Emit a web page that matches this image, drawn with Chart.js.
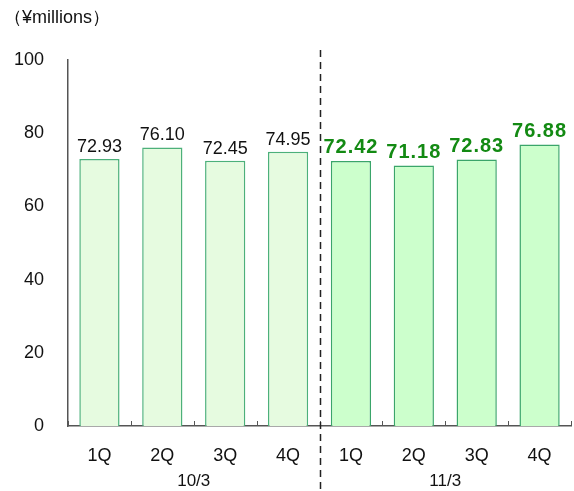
<!DOCTYPE html>
<html>
<head>
<meta charset="utf-8">
<script src="https://cdn.jsdelivr.net/npm/chart.js@4"></script>
<style>
  body { margin: 0; background: #fff; }
  #wrap { width: 574px; height: 491px; position: relative; }
</style>
</head>
<body>
<div id="wrap"><canvas id="myChart"></canvas></div>
<script>
const quarters = ["1Q", "2Q", "3Q", "4Q", "1Q", "2Q", "3Q", "4Q"];
const periods = ["10/3", "11/3"];
const values = [72.93, 76.1, 72.45, 74.95, 72.42, 71.18, 72.83, 76.88];
const yTicks = [0, 20, 40, 60, 80, 100];
const unitLabel = "（¥millions）";

const FONT = "'Liberation Sans', Arial, sans-serif";

// colours: previous year pale, current year stronger green
const fills = values.map((v, i) => (i < 4 ? "#e6fbe0" : "#ccffcc"));
const borders = values.map((v, i) => (i < 4 ? "#4cb07a" : "#3aa56a"));

const extras = {
  id: "extras",
  afterDatasetsDraw(chart) {
    const ctx = chart.ctx;
    const x = chart.scales.x;
    const area = chart.chartArea;
    const meta = chart.getDatasetMeta(0);
    const step = x.getPixelForValue(1) - x.getPixelForValue(0);

    ctx.save();
    // value labels
    ctx.textAlign = "center";
    ctx.textBaseline = "bottom";
    meta.data.forEach((bar, i) => {
      if (i < 4) {
        ctx.font = "18px " + FONT;
        ctx.fillStyle = "#111";
        ctx.letterSpacing = "0px";
      } else {
        ctx.font = "bold 20px " + FONT;
        ctx.fillStyle = "#138a13";
        ctx.letterSpacing = "1px";
      }
      ctx.fillText(values[i].toFixed(2), bar.x, bar.y - 3);
    });
    ctx.letterSpacing = "0px";

    // small ticks on x axis at category boundaries
    ctx.strokeStyle = "#555";
    ctx.lineWidth = 1;
    for (let i = 0; i <= quarters.length; i++) {
      const px = Math.round(x.getPixelForValue(i) - step / 2) + 0.5;
      ctx.beginPath();
      ctx.moveTo(px, area.bottom);
      ctx.lineTo(px, area.bottom - 5);
      ctx.stroke();
    }

    // period labels
    ctx.font = "17px " + FONT;
    ctx.fillStyle = "#111";
    ctx.textBaseline = "middle";
    periods.forEach((p, g) => {
      const cx = (x.getPixelForValue(g * 4) + x.getPixelForValue(g * 4 + 3)) / 2;
      ctx.fillText(p, cx, area.bottom + 55);
    });

    // dashed divider
    const dx = Math.round(x.getPixelForValue(3.5)) + 0.5;
    ctx.strokeStyle = "#222";
    ctx.lineWidth = 1.5;
    ctx.setLineDash([7, 5]);
    ctx.beginPath();
    ctx.moveTo(dx, 50);
    ctx.lineTo(dx, chart.height);
    ctx.stroke();
    ctx.setLineDash([]);

    // unit label
    ctx.font = "18px " + FONT;
    ctx.textAlign = "left";
    ctx.fillText(unitLabel, 4, 18);
    ctx.restore();
  },
};

new Chart(document.getElementById("myChart"), {
  type: "bar",
  data: {
    labels: quarters,
    datasets: [
      {
        data: values,
        backgroundColor: fills,
        borderColor: borders,
        borderWidth: 1.5,
        barPercentage: 0.64,
        categoryPercentage: 1,
      },
    ],
  },
  options: {
    responsive: true,
    maintainAspectRatio: false,
    animation: false,
    layout: { padding: { top: 60, right: 3, left: 0, bottom: 0 } },
    plugins: { legend: { display: false }, tooltip: { enabled: false } },
    scales: {
      x: {
        grid: { display: false, drawTicks: false },
        border: { color: "#555", width: 1.5 },
        ticks: { color: "#111", font: { family: FONT, size: 18 }, padding: 19 },
        afterFit: (s) => { s.height = 65; },
      },
      y: {
        min: 0,
        max: 100,
        afterBuildTicks: (s) => { s.ticks = yTicks.map((v) => ({ value: v })); },
        grid: { display: false, drawTicks: false },
        border: { color: "#555", width: 1.5 },
        ticks: { color: "#111", font: { family: FONT, size: 18 }, padding: 24 },
        afterFit: (s) => { s.width = 68; },
      },
    },
  },
  plugins: [extras],
});
</script>
</body>
</html>
